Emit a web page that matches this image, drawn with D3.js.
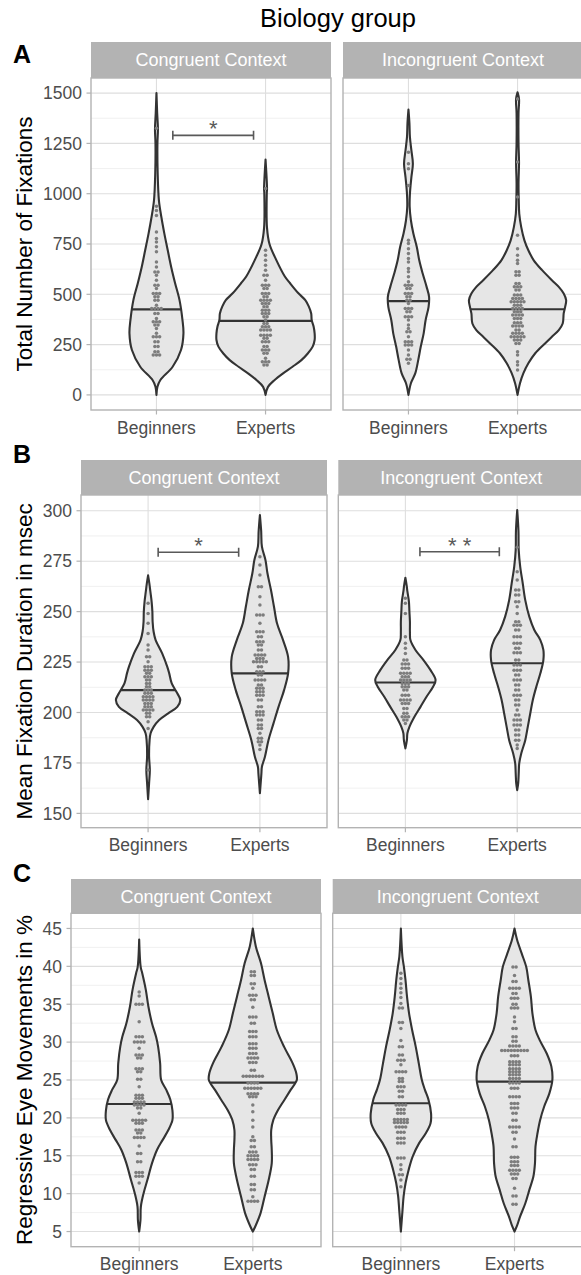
<!DOCTYPE html>
<html><head><meta charset="utf-8">
<script src="https://cdn.jsdelivr.net/npm/d3@7"></script>
<style>
body{margin:0;background:#fff}
svg{display:block}
text{font-family:'Liberation Sans',Arial,Helvetica,sans-serif}
</style>
</head><body>
<svg id="chart" width="581" height="1275"></svg>
<script>
// ---------------- DATA ----------------
const title = "Biology group";
const rowLetters = ["A", "B", "C"];
const contexts = ["Congruent Context", "Incongruent Context"];
const groups = ["Beginners", "Experts"];
const yTitles = ["Total Number of Fixations", "Mean Fixation Duration in msec", "Regressive Eye Movements in %"];
const yTicksA = [0, 250, 500, 750, 1000, 1250, 1500];
const yTicksB = [150, 175, 200, 225, 250, 275, 300];
const yTicksC = [5, 10, 15, 20, 25, 30, 35, 40, 45];
const yDomainA = [-75, 1575];
const yDomainB = [142.9, 307.8];
const yDomainC = [3, 47];

// violin density profiles: [value, relative half-width (1 = full 0.9 category width)]
const pA_con_beg = [[0,0],[41,0.02],[74,0.08],[140,0.33],[223,0.5],[306,0.55],[372,0.53],[471,0.47],[555,0.38],[636,0.3],[719,0.23],[803,0.16],[884,0.1],[967,0.05],[1100,0.025],[1250,0.02],[1320,0.03],[1400,0.015],[1500,0]];
const pA_con_exp = [[0,0],[40,0.05],[73,0.18],[106,0.35],[140,0.55],[173,0.73],[206,0.86],[240,0.96],[273,1.0],[306,1.0],[339,0.98],[372,0.94],[405,0.93],[440,0.88],[471,0.81],[505,0.67],[555,0.5],[590,0.39],[670,0.22],[750,0.08],[830,0.03],[1000,0.025],[1026,0.03],[1170,0]];
const pA_inc_beg = [[0,0],[58,0.05],[108,0.14],[174,0.2],[239,0.25],[306,0.31],[372,0.35],[438,0.41],[487,0.42],[537,0.37],[603,0.29],[669,0.22],[735,0.17],[802,0.1],[868,0.05],[934,0.025],[1000,0.03],[1082,0.06],[1149,0.09],[1215,0.06],[1281,0.03],[1350,0.02],[1418,0]];
const pA_inc_exp = [[0,0],[58,0.05],[108,0.12],[157,0.22],[207,0.36],[256,0.56],[289,0.7],[322,0.84],[355,0.92],[405,0.94],[438,0.97],[471,0.99],[504,0.94],[537,0.84],[570,0.7],[620,0.5],[669,0.33],[719,0.22],[768,0.14],[834,0.075],[900,0.035],[967,0.025],[1050,0.02],[1157,0.03],[1250,0.02],[1400,0.02],[1471,0.03],[1504,0]];

const pB_con_beg = [[157,0],[165,0.02],[171.5,0.035],[178,0.02],[186.3,0.03],[189.7,0.05],[192.9,0.11],[196.3,0.22],[199.6,0.4],[202.8,0.58],[206.2,0.64],[209.5,0.58],[214.4,0.47],[219.4,0.42],[222.7,0.38],[229.3,0.28],[235.9,0.15],[240,0.11],[245,0.09],[250,0.085],[255,0.07],[260,0.045],[264,0.025],[268,0]];
const pB_con_exp = [[160,0],[166.5,0.02],[169.8,0.03],[173.1,0.04],[178.1,0.1],[186.3,0.17],[194.6,0.27],[202.8,0.37],[211.1,0.48],[219.4,0.56],[227.6,0.56],[235.9,0.46],[244.2,0.34],[252.4,0.28],[260.7,0.22],[269,0.15],[275.6,0.11],[282.2,0.04],[290,0.025],[297.9,0]];
const pB_inc_beg = [[182.2,0],[186.3,0.03],[189.7,0.04],[192.9,0.08],[197.9,0.18],[202.8,0.3],[207.8,0.42],[212.8,0.55],[216.1,0.6],[221,0.5],[226,0.36],[231,0.2],[235.9,0.1],[240,0.09],[245,0.09],[250,0.08],[255,0.07],[260,0.04],[263,0.025],[266.8,0]];
const pB_inc_exp = [[161.5,0],[165,0.02],[169.8,0.03],[174.8,0.04],[179.7,0.08],[186.3,0.16],[192.9,0.21],[199.6,0.26],[206.2,0.31],[212.8,0.38],[219.4,0.46],[226,0.52],[231,0.52],[235.9,0.46],[240.9,0.34],[247.5,0.24],[255.7,0.16],[264,0.11],[272.2,0.06],[280.5,0.03],[290,0.025],[300.3,0]];

const pC_con_beg = [[5,0],[6.5,0.025],[8.3,0.033],[10.1,0.088],[11.8,0.16],[14,0.25],[15.8,0.35],[17.1,0.46],[18.4,0.57],[19.7,0.65],[21,0.65],[22.4,0.61],[23.7,0.53],[25,0.43],[27.2,0.41],[29.4,0.37],[30.7,0.33],[32.5,0.25],[34.7,0.18],[36.9,0.13],[39.1,0.06],[39.9,0.03],[43.55,0]];
const pC_con_exp = [[5,0],[5.7,0.05],[7.4,0.15],[9.6,0.23],[11.8,0.31],[14,0.37],[15.8,0.37],[17.1,0.36],[18.4,0.36],[19.7,0.4],[21,0.49],[22.4,0.62],[23.7,0.74],[25,0.86],[25.9,0.85],[27.2,0.78],[29.4,0.61],[31.6,0.47],[33.8,0.39],[36,0.31],[38.2,0.23],[40.4,0.16],[42.6,0.06],[45,0]];
const pC_inc_beg = [[5,0],[7.9,0.033],[9.6,0.053],[11.4,0.092],[13.1,0.15],[14.9,0.23],[16.7,0.36],[18,0.49],[19.3,0.58],[20.6,0.59],[22.4,0.54],[23.7,0.47],[25,0.41],[27.2,0.35],[29.4,0.29],[31.6,0.22],[33.8,0.16],[36,0.12],[38.2,0.09],[39.9,0.06],[41.3,0.03],[45,0]];
const pC_inc_exp = [[5,0],[5.7,0.045],[7,0.11],[8.7,0.21],[10.5,0.29],[12.3,0.37],[14,0.4],[16.2,0.41],[18,0.45],[19.7,0.5],[21.5,0.58],[23.2,0.68],[25,0.74],[26.8,0.72],[28.5,0.63],[30.3,0.49],[31.6,0.41],[33.8,0.35],[36,0.32],[38.2,0.27],[39.9,0.23],[41.7,0.14],[43.5,0.05],[45,0]];

// medians [Beginners, Experts] per context
const medA = [[425, 368], [466, 426]];
const medB = [[211.1, 219.4], [214.9, 224.4]];
const medC = [[21.84, 24.65], [21.93, 24.78]];

// dot-plot stacks: [value, number of dots]
const dA_con_beg = [[198,3],[215,2],[240,2],[264,2],[289,3],[306,1],[330,1],[347,2],[363,3],[380,1],[405,2],[430,4],[446,1],[471,2],[488,2],[504,3],[529,1],[545,2],[570,1],[595,1],[611,2],[636,1],[661,1],[711,1],[736,1],[760,1],[777,1],[810,1],[892,1],[917,1],[937,1],[1325,1]];
const dA_con_exp = [[149,2],[165,3],[182,1],[207,2],[223,3],[240,2],[264,3],[281,2],[297,4],[322,4],[339,3],[355,2],[372,1],[388,2],[405,3],[421,3],[438,2],[454,3],[471,4],[488,2],[504,3],[529,2],[545,3],[570,1],[595,2],[620,1],[645,1],[669,1],[694,1],[719,1],[1026,1]];
const dA_inc_beg = [[157,1],[177,2],[198,1],[223,1],[248,3],[264,3],[289,1],[314,2],[330,1],[347,1],[372,1],[388,3],[413,2],[430,3],[454,1],[471,2],[488,2],[504,3],[529,2],[545,3],[562,1],[587,1],[612,1],[628,1],[661,1],[678,1],[703,1],[727,1],[752,1],[769,1],[1041,1],[1124,1],[1149,1],[1206,1]];
const dA_inc_exp = [[124,1],[149,1],[165,1],[198,1],[215,1],[256,2],[273,3],[289,5],[306,4],[322,2],[342,4],[359,3],[380,3],[397,4],[413,3],[430,4],[446,3],[463,5],[479,4],[496,3],[521,2],[537,3],[554,2],[595,2],[612,2],[653,1],[669,1],[694,1],[727,1],[793,1],[983,1],[1157,1],[1471,1]];

const dB_con_beg = [[171.5,1],[192.1,1],[195.4,1],[197.9,2],[199.6,2],[201.2,4],[202.8,3],[204.5,3],[206.2,4],[207.8,4],[209.5,3],[211.1,3],[212.8,2],[214.4,2],[216.1,2],[217.7,3],[219.4,2],[221,3],[222.7,3],[225.1,1],[227.6,2],[231,1],[233.4,1],[239.2,1],[244.2,1],[249.1,1],[254.1,1]];
const dB_con_exp = [[181.7,1],[183.9,1],[185.5,2],[187.2,2],[189.7,1],[192.1,2],[193.8,2],[196.3,2],[198.7,3],[200.4,3],[202.8,2],[206.2,2],[208.6,3],[210.3,3],[212,3],[213.6,2],[216.1,4],[218.6,2],[220.2,3],[222.7,2],[225.1,5],[226.8,3],[228.5,4],[231,2],[233.4,2],[235.1,3],[237.5,2],[240,3],[244.2,1],[248.3,3],[253.3,1],[257.4,1],[262.3,2],[268.1,1],[273.1,1],[277.2,1]];
const dB_inc_beg = [[194.6,1],[196.3,2],[197.9,3],[199.6,2],[202,2],[204.5,3],[206.2,4],[208.6,3],[211.1,2],[212.8,3],[214.4,3],[216.1,4],[217.7,3],[219.4,4],[221.9,3],[224,3],[226,2],[229.3,1],[231.8,1],[234.3,1],[237.5,1],[249.1,1],[254.1,1],[256.6,1]];
const dB_inc_exp = [[182.2,1],[183.9,1],[186.3,2],[188.8,2],[191.3,2],[193.8,3],[196.3,3],[198.7,2],[201.2,1],[203.7,2],[206.2,2],[208.6,3],[211.1,2],[213.6,2],[216.1,3],[218.6,2],[221,3],[223.5,3],[226,2],[229.6,3],[231.8,2],[234.3,3],[237.5,3],[240.9,2],[243.3,3],[245,2],[249.1,1],[252.4,1],[254.9,2],[258.2,2],[260.7,2],[265.7,1],[269.8,1],[281.9,1]];

const dC_con_beg = [[11.4,1],[12.3,3],[12.8,3],[14.2,2],[15.3,2],[16.3,1],[17.4,4],[18,2],[18.4,3],[19.3,3],[19.7,5],[20.6,1],[21.3,2],[21.7,4],[22.1,4],[22.6,3],[23,3],[24.1,1],[25.1,2],[26.1,2],[26.5,3],[27.9,2],[28.3,3],[29.2,1],[30,4],[30.7,3],[32.7,1],[35,3],[36.1,1],[36.6,1]];
const dC_con_exp = [[9,4],[9.6,1],[10.5,2],[11.2,2],[12.3,2],[13.2,2],[13.8,3],[14.5,4],[15,4],[15.5,3],[16.2,2],[17,2],[17.5,1],[18.8,1],[19.7,1],[20.8,1],[21.7,1],[22.8,3],[23.2,4],[23.9,6],[24.6,4],[25.5,7],[26.3,2],[27.3,3],[27.9,4],[28.5,3],[29.2,3],[29.8,3],[30.7,3],[31.4,3],[32.5,2],[33.3,3],[34.6,1],[35.6,2],[36.2,3],[37.1,1],[37.7,2],[38.8,2],[39.3,2]];
const dC_inc_beg = [[10.9,1],[11.8,1],[12.5,2],[13.2,1],[13.8,1],[14.7,3],[16.7,3],[17.3,3],[18.1,3],[18.8,4],[19.4,5],[19.8,5],[20.6,3],[21.1,3],[21.7,4],[22.8,2],[23.5,2],[24.1,3],[24.8,2],[25.2,2],[26.1,4],[27,1],[27.6,3],[28.3,2],[29.4,2],[30.2,1],[31.8,1],[32.6,2],[34.5,2],[35.1,1],[35.9,1],[36.5,1],[37.1,1],[37.7,1],[38.4,1],[39.1,1]];
const dC_inc_exp = [[8.6,2],[9.7,2],[10.7,1],[12,2],[12.6,3],[13.1,4],[13.7,3],[14.2,3],[14.8,3],[16.2,2],[17.2,1],[18.1,2],[18.8,4],[19.7,2],[20.6,2],[21.3,3],[21.9,3],[22.8,4],[23.9,3],[24.6,4],[25.2,4],[25.7,4],[26.1,4],[26.5,4],[27,4],[27.4,4],[28.2,3],[28.9,9],[29.5,4],[30.1,2],[30.7,2],[31.8,2],[32.7,1],[33.3,1],[34.5,3],[35,2],[35.8,3],[36.4,2],[37.1,4],[38,2],[38.8,1],[39.9,2]];

// significance brackets: context index, x-from / x-to (category units), value, label
const sigA = [{ctx: 0, from: 1.15, to: 1.89, value: 1290, label: "*"}];
const sigB = [{ctx: 0, from: 1.09, to: 1.81, value: 279.4, label: "*"},
              {ctx: 1, from: 1.13, to: 1.84, value: 279.7, label: "* *"}];
const sigC = [];

// ---------------- ASSEMBLY ----------------
const rowsData = [
  {ticks: yTicksA, domain: yDomainA, med: medA, sig: sigA,
   prof: [[pA_con_beg, pA_con_exp], [pA_inc_beg, pA_inc_exp]],
   dots: [[dA_con_beg, dA_con_exp], [dA_inc_beg, dA_inc_exp]]},
  {ticks: yTicksB, domain: yDomainB, med: medB, sig: sigB,
   prof: [[pB_con_beg, pB_con_exp], [pB_inc_beg, pB_inc_exp]],
   dots: [[dB_con_beg, dB_con_exp], [dB_inc_beg, dB_inc_exp]]},
  {ticks: yTicksC, domain: yDomainC, med: medC, sig: sigC,
   prof: [[pC_con_beg, pC_con_exp], [pC_inc_beg, pC_inc_exp]],
   dots: [[dC_con_beg, dC_con_exp], [dC_inc_beg, dC_inc_exp]]}
];

// layout
const layout = [
  {letterY: 63, stripTop: 42, top: 78, bottom: 410, lefts: [91, 343], width: 240},
  {letterY: 463, stripTop: 460, top: 495, bottom: 827.7, lefts: [81, 338.3], width: 246},
  {letterY: 882, stripTop: 879, top: 913.3, bottom: 1246.7, lefts: [71, 332.7], width: 250}
];

const svg = d3.select("#chart");
const C = {strip: "#b3b3b3", border: "#b3b3b3", gridMaj: "#dedede", gridMin: "#ececec",
  tick: "#4d4d4d", vFill: "#e6e6e6", vLine: "#333333", dot: "#7d7d7d", sig: "#595959"};

svg.append("text").attr("x", 338).attr("y", 27).attr("text-anchor", "middle")
  .attr("font-size", 25.5).attr("fill", "#000").text(title);

function interpWidth(prof, v) {
  for (let i = 0; i < prof.length - 1; i++) {
    const a = prof[i], b = prof[i + 1];
    if (v >= a[0] && v <= b[0]) {
      const t = (v - a[0]) / (b[0] - a[0]);
      return a[1] + t * (b[1] - a[1]);
    }
  }
  return 0;
}

rowsData.forEach((rd, r) => {
  const L = layout[r];
  const y = d3.scaleLinear().domain(rd.domain).range([L.bottom, L.top]);
  const step = rd.ticks[1] - rd.ticks[0];
  const minor = d3.range(rd.ticks[0] - step / 2, rd.ticks[rd.ticks.length - 1] + step, step)
    .filter(v => v > rd.domain[0] && v < rd.domain[1]);

  // row letter
  svg.append("text").attr("x", 13).attr("y", L.letterY).attr("font-size", 25)
    .attr("font-weight", "bold").attr("fill", "#000").text(rowLetters[r]);

  // y title
  const cy = (L.top + L.bottom) / 2;
  svg.append("text").attr("transform", `translate(31.5,${cy}) rotate(-90)`)
    .attr("text-anchor", "middle").attr("font-size", 22.5).attr("fill", "#000").text(yTitles[r]);

  contexts.forEach((ctx, c) => {
    const left = L.lefts[c], W = L.width;
    const x = d3.scalePoint().domain(groups).range([left, left + W]).padding(0.6);
    const u = d3.scaleLinear().domain([0.4, 2.6]).range([left, left + W]);
    const stepPx = x.step();
    const w = d3.scaleLinear().domain([0, 1]).range([0, 0.45 * stepPx]);
    const g = svg.append("g");

    // strip
    g.append("rect").attr("x", left).attr("y", L.stripTop).attr("width", W)
      .attr("height", L.top - L.stripTop).attr("fill", C.strip);
    g.append("text").attr("x", left + W / 2).attr("y", (L.stripTop + L.top) / 2)
      .attr("dy", "0.36em").attr("text-anchor", "middle").attr("font-size", 18)
      .attr("fill", "#fff").text(ctx);

    // grid
    g.selectAll(".mn").data(minor).join("line")
      .attr("x1", left).attr("x2", left + W).attr("y1", d => y(d)).attr("y2", d => y(d))
      .attr("stroke", C.gridMin).attr("stroke-width", 0.8);
    g.selectAll(".mj").data(rd.ticks).join("line")
      .attr("x1", left).attr("x2", left + W).attr("y1", d => y(d)).attr("y2", d => y(d))
      .attr("stroke", C.gridMaj).attr("stroke-width", 1.1);
    g.selectAll(".mx").data(groups).join("line")
      .attr("x1", d => x(d)).attr("x2", d => x(d)).attr("y1", L.top).attr("y2", L.bottom)
      .attr("stroke", C.gridMaj).attr("stroke-width", 1.1);

    // violins
    groups.forEach((grp, k) => {
      const cx = x(grp);
      const prof = rd.prof[c][k];
      const area = d3.area().curve(d3.curveCatmullRom.alpha(0.5))
        .y(d => y(d[0])).x0(d => cx - w(d[1])).x1(d => cx + w(d[1]));
      g.append("path").attr("d", area(prof)).attr("fill", C.vFill)
        .attr("stroke", C.vLine).attr("stroke-width", 2.1).attr("stroke-linejoin", "round");
      const m = rd.med[c][k];
      const mw = w(interpWidth(prof, m));
      g.append("line").attr("x1", cx - mw).attr("x2", cx + mw).attr("y1", y(m)).attr("y2", y(m))
        .attr("stroke", C.vLine).attr("stroke-width", 2.1);
      // dots
      const pts = [];
      rd.dots[c][k].forEach(([v, n]) => {
        for (let i = 0; i < n; i++) pts.push({v, off: (i - (n - 1) / 2)});
      });
      g.selectAll(null).data(pts).join("circle")
        .attr("cx", d => cx + d.off * 3.2).attr("cy", d => y(d.v)).attr("r", 1.75)
        .attr("fill", C.dot);
    });

    // significance
    rd.sig.filter(s => s.ctx === c).forEach(s => {
      const yy = y(s.value), x1 = u(s.from), x2 = u(s.to);
      g.append("path").attr("d", `M${x1},${yy - 4.5}V${yy + 4.5}M${x1},${yy}H${x2}M${x2},${yy - 4.5}V${yy + 4.5}`)
        .attr("stroke", C.sig).attr("stroke-width", 1.6).attr("fill", "none");
      g.append("text").attr("x", (x1 + x2) / 2).attr("y", yy + 1).attr("text-anchor", "middle")
        .attr("font-size", 22).attr("fill", C.sig).text(s.label);
    });

    // panel border
    g.append("rect").attr("x", left).attr("y", L.top).attr("width", W)
      .attr("height", L.bottom - L.top).attr("fill", "none")
      .attr("stroke", C.border).attr("stroke-width", 1.4);

    // x axis
    g.selectAll(".xt").data(groups).join("line")
      .attr("x1", d => x(d)).attr("x2", d => x(d)).attr("y1", L.bottom).attr("y2", L.bottom + 4.5)
      .attr("stroke", C.border).attr("stroke-width", 1.2);
    g.selectAll(".xl").data(groups).join("text")
      .attr("x", d => x(d)).attr("y", L.bottom + 23.5).attr("text-anchor", "middle")
      .attr("font-size", 17.5).attr("fill", C.tick).text(d => d);

    // y axis (left panel only)
    if (c === 0) {
      g.selectAll(".yt").data(rd.ticks).join("line")
        .attr("x1", left - 4.5).attr("x2", left).attr("y1", d => y(d)).attr("y2", d => y(d))
        .attr("stroke", C.border).attr("stroke-width", 1.2);
      g.selectAll(".yl").data(rd.ticks).join("text")
        .attr("x", left - 9).attr("y", d => y(d)).attr("dy", "0.36em").attr("text-anchor", "end")
        .attr("font-size", 17.5).attr("fill", C.tick).text(d => d);
    }
  });
});
</script>
</body></html>
